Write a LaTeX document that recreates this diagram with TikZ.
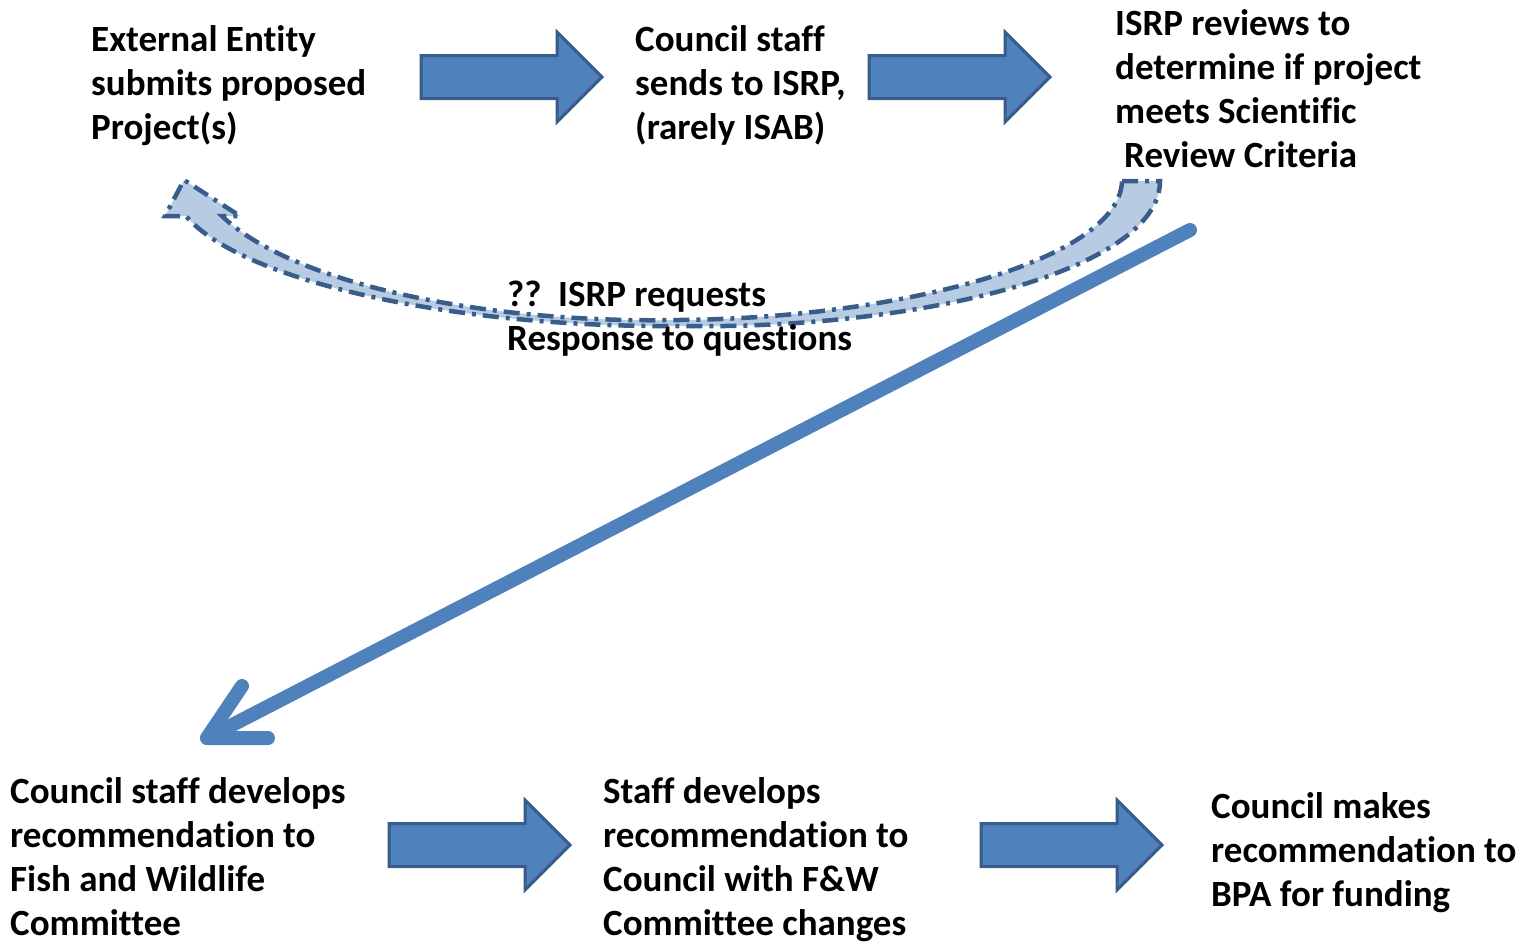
\documentclass[tikz,border=0pt]{standalone}
\usepackage{fontspec}
\setmainfont{Carlito}[Ligatures={NoCommon}]
\definecolor{arrfill}{HTML}{4F81BD}
\definecolor{arrline}{HTML}{385D8A}
\definecolor{curvefill}{HTML}{B7CBE3}
\begin{document}
\begin{tikzpicture}[x=1pt,y=-1pt,
  txt/.style={anchor=north west,inner sep=0pt,align=left,
    font=\fontsize{37}{44}\selectfont\bfseries},
  blockarr/.style={fill=arrfill,draw=arrline,line width=3pt,line join=miter},
  diag/.style={draw=arrfill,line width=14pt,line cap=round,line join=round},
  curvearr/.style={fill=curvefill,draw=arrline,line width=4.5pt,
    dash pattern=on 16pt off 7pt on 4pt off 7pt}]
\useasboundingbox (0,0) rectangle (1527,943);
% curved return arrow
\draw[curvearr] (1122,181) -- (1160,181)
  .. controls (1160,270) and (920,330) .. (680,326)
  .. controls (450,328) and (240,280) .. (186,216)
  -- (165,216) -- (184,180) -- (240,216) -- (222,216)
  .. controls (290,282) and (480,324) .. (680,320)
  .. controls (900,318) and (1120,260) .. (1122,181) -- cycle;
% text nodes
\node[txt] (ext) at (91,20.5) {\strut External Entity\\submits proposed\\Project(s)};
\node[txt] (staff) at (635,20.5) {\strut Council staff\\sends to ISRP,\\(rarely ISAB)};
\node[txt] (isrp) at (1115,4.5) {\strut ISRP reviews to\\determine if project\\meets Scientific\\\hspace*{9pt}Review Criteria};
\node[txt] (req) at (507,275.5) {\strut ??~~ISRP requests\\Response to questions};
\node[txt] (dev) at (10,772.5) {\strut Council staff develops\\recommendation to\\Fish and Wildlife\\Committee};
\node[txt] (rec) at (603,772.5) {\strut Staff develops\\recommendation to\\Council with F\&W\\Committee changes};
\node[txt] (bpa) at (1211,787.5) {\strut Council makes\\recommendation to\\BPA for funding};
% block arrows
\draw[blockarr] (421,77) ++(0,-21.5) -- ++(136,0) -- ++(0,-23.5) -- ++(45,45) -- ++(-45,45) -- ++(0,-23.5) -- ++(-136,0) -- cycle;
\draw[blockarr] (869,77) ++(0,-21.5) -- ++(136,0) -- ++(0,-23.5) -- ++(45,45) -- ++(-45,45) -- ++(0,-23.5) -- ++(-136,0) -- cycle;
\draw[blockarr] (389,845) ++(0,-21.5) -- ++(136,0) -- ++(0,-23.5) -- ++(45,45) -- ++(-45,45) -- ++(0,-23.5) -- ++(-136,0) -- cycle;
\draw[blockarr] (981,845) ++(0,-21.5) -- ++(136,0) -- ++(0,-23.5) -- ++(45,45) -- ++(-45,45) -- ++(0,-23.5) -- ++(-136,0) -- cycle;
% diagonal arrow
\coordinate (dstart) at (1190,230);
\coordinate (dtip) at (207,738);
\coordinate (barbA) at (242,686);
\coordinate (barbB) at (268,738);
\draw[diag] (dstart) -- (dtip);
\draw[diag] (barbA) -- (dtip) -- (barbB);
\end{tikzpicture}
\end{document}
